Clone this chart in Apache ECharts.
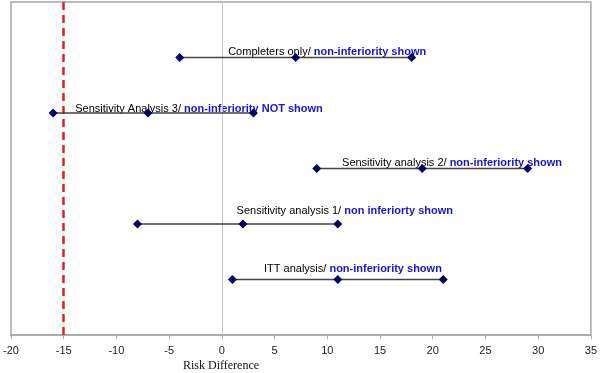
<!DOCTYPE html>
<html>
<head>
<meta charset="utf-8">
<script src="https://cdn.jsdelivr.net/npm/echarts@6/dist/echarts.min.js"></script>
<style>
  html, body { margin: 0; padding: 0; background: #fff; }
  #chart { width: 600px; height: 373px; }
</style>
</head>
<body>
<div id="chart"></div>
<script>
// analyses, top to bottom
var names = ['Completers only/ ', 'Sensitivity Analysis 3/ ', 'Sensitivity analysis 2/ ', 'Sensitivity analysis 1/ ', 'ITT analysis/ ']
var verdicts = ['non-inferiority shown', 'non-inferiority NOT shown', 'non-inferiority shown', 'non inferiorty shown', 'non-inferiority shown']
var lower = [-4, -16, 9, -8, 1]
var estimate = [7, -7, 19, 2, 11]
var upper = [18, 3, 29, 11, 21]
// row position on the hidden y axis
var rowY = [5, 4, 3, 2, 1]
// where each caption sits (risk difference units / row units)
var labelStart = [0.6, -13.9, 11.4, 1.4, 4.0]
var labelY = [5.09, 4.06, 3.09, 2.22, 1.18]
var margin = -15
var xTicks = { min: -20, max: 35, interval: 5 }

var chart = echarts.init(document.getElementById('chart'))

var series = []
for (var i = 0; i < names.length; i++) {
  series.push({
    type: 'line',
    data: [[lower[i], rowY[i]], [estimate[i], rowY[i]], [upper[i], rowY[i]]],
    symbol: 'diamond',
    symbolSize: 9,
    showAllSymbol: true,
    z: 5,
    itemStyle: { color: '#000066' },
    lineStyle: { color: '#444444', width: 1.5 },
    animation: false
  })
}

// captions (drawn under the diamonds, like the original)
series.push({
  type: 'scatter',
  symbolSize: 0,
  itemStyle: { opacity: 1 },
  data: names.map(function (n, i) { return [labelStart[i], labelY[i]] }),
  label: {
    show: true,
    position: 'right',
    distance: 0,
    offset: [0, -1],
    formatter: function (p) {
      return '{a|' + names[p.dataIndex] + '}{b|' + verdicts[p.dataIndex] + '}'
    },
    rich: {
      a: { fontFamily: 'Liberation Sans', fontSize: 11, color: '#000000' },
      b: { fontFamily: 'Liberation Sans', fontSize: 11, fontWeight: 'bold', color: '#1515d8' }
    }
  },
  z: 2,
  silent: true,
  animation: false,
  // reference lines
  markLine: {
    silent: true,
    symbol: ['none', 'none'],
    label: { show: false },
    animation: false,
    data: [
      { xAxis: 0, lineStyle: { color: '#c8c8c8', width: 1, type: 'solid', opacity: 1 } },
      { xAxis: margin, lineStyle: { color: '#e02020', width: 2.5, type: [8, 5], opacity: 1 } }
    ]
  }
})

chart.setOption({
  backgroundColor: '#ffffff',
  grid: {
    left: 8,
    right: 6,
    top: 2,
    bottom: 38,
    show: true,
    borderColor: '#a6a6a6',
    borderWidth: 1.5
  },
  xAxis: {
    type: 'value',
    min: xTicks.min,
    max: xTicks.max,
    interval: xTicks.interval,
    axisLine: { show: true, lineStyle: { color: '#a6a6a6', width: 1.5 } },
    axisTick: { show: true, length: 4, lineStyle: { color: '#a6a6a6' } },
    splitLine: { show: false },
    axisLabel: {
      margin: 10,
      fontFamily: 'Liberation Sans',
      fontSize: 11,
      color: '#222222'
    }
  },
  yAxis: {
    type: 'value',
    min: 0,
    max: 6,
    show: false
  },
  graphic: [{
    type: 'text',
    left: 183,
    top: 360,
    style: {
      text: 'Risk Difference',
      font: '12px "Liberation Serif"',
      fill: '#111111'
    }
  }],
  series: series
})
</script>
</body>
</html>
